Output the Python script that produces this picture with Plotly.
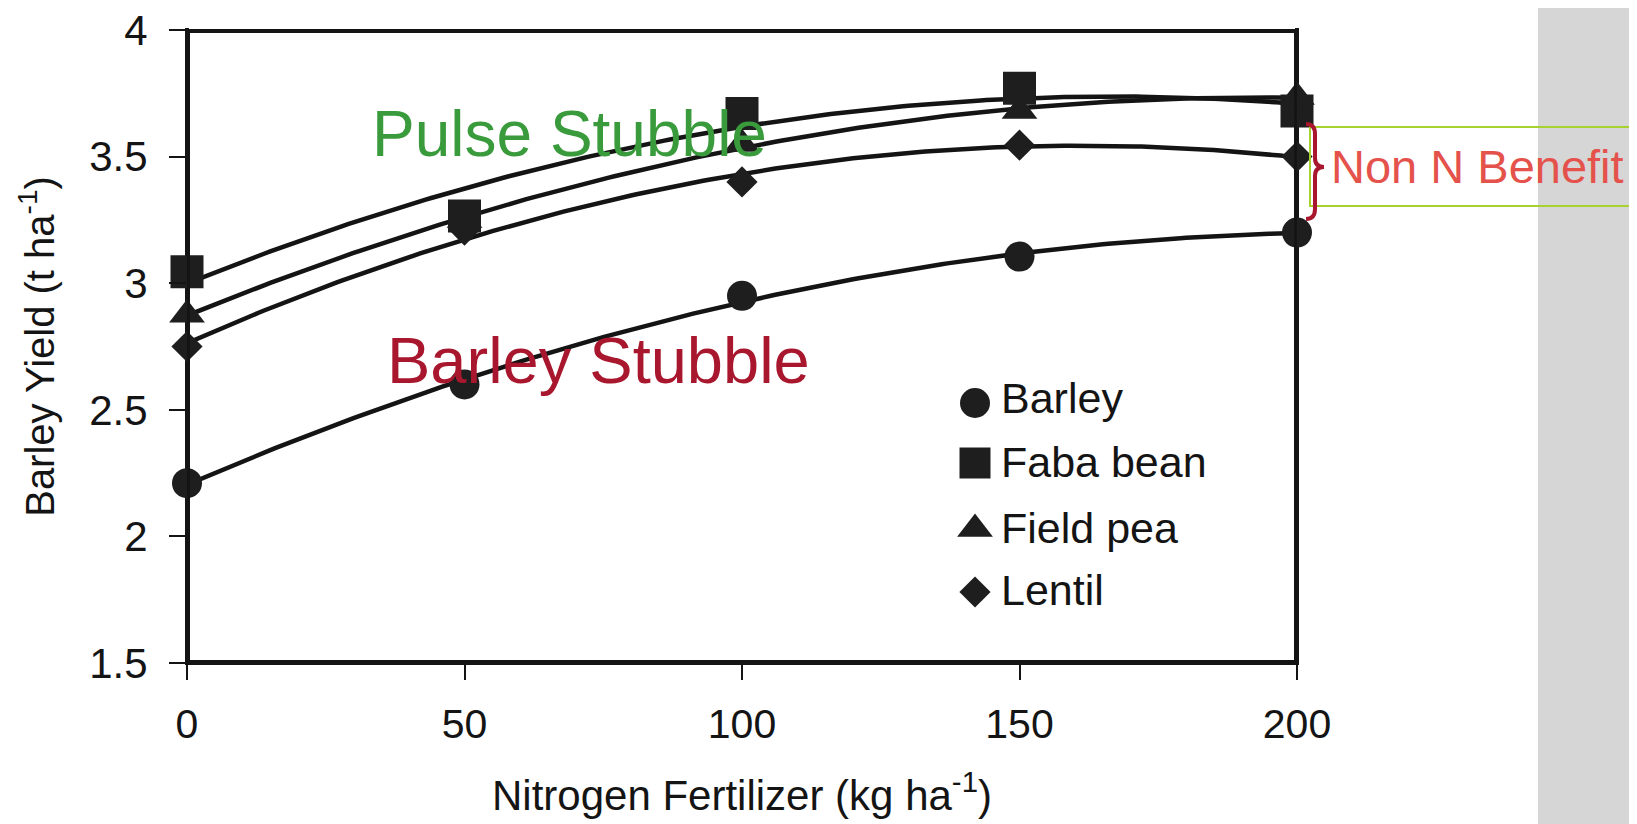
import numpy as np
import plotly.graph_objects as go

# ---------------- data ----------------
nitrogen = [0, 50, 100, 150, 200]
barley = [2.21, 2.60, 2.95, 3.105, 3.20]
faba_bean = [3.045, 3.265, 3.67, 3.77, 3.68]
field_pea = [2.875, 3.25, 3.55, 3.68, 3.735]
lentil = [2.75, 3.21, 3.40, 3.545, 3.50]

series_names = ["Barley", "Faba bean", "Field pea", "Lentil"]
series_values = [barley, faba_bean, field_pea, lentil]

x_ticks = [0, 50, 100, 150, 200]
y_ticks = [1.5, 2, 2.5, 3, 3.5, 4]
y_tick_labels = ["1.5", "2", "2.5", "3", "3.5", "4"]

# ---------------- layout constants (page pixels) ----------------
PAGE_W, PAGE_H = 1637, 824
BODY = 8                     # default page margin around the plot div
W, H = PAGE_W - BODY, PAGE_H - BODY
PL, PR, PT, PB = 187, 1297, 30, 663  # plot area edges on the page
FONT = "Liberation Sans, Arial, sans-serif"
INK = "#141414"
MARK = "#1e1e1e"

symbols = ["circle", "square", "triangle-up", "diamond"]
sizes = [30, 33, 31, 24]


def px(x):
    return (x - PL) / (PR - PL)


def py(y):
    return (PB - y) / (PB - PT)


fig = go.Figure()

# plot frame drawn on the pixel overlay axes (inner half visible)
fig.add_trace(go.Scatter(x=[PL, PL, PR, PR, PL], y=[PB, PT, PT, PB, PB],
                         mode="lines", xaxis="x2", yaxis="y2",
                         line=dict(color=INK, width=6), showlegend=False,
                         hoverinfo="skip", cliponaxis=False))

# fitted quadratic trend curves (as in the original figure)
xs = np.linspace(0, 200, 201)
for name, vals in zip(series_names, series_values):
    coef = np.polyfit(nitrogen, vals, 2)
    fig.add_trace(go.Scatter(x=xs, y=np.polyval(coef, xs), mode="lines",
                             line=dict(color=INK, width=4.5),
                             showlegend=False, hoverinfo="skip"))

# observed points
for name, vals, sym, sz in zip(series_names, series_values, symbols, sizes):
    fig.add_trace(go.Scatter(x=nitrogen, y=vals, mode="markers", name=name,
                             marker=dict(symbol=sym, size=sz, color=MARK, opacity=1,
                                         line=dict(width=0)),
                             showlegend=False, cliponaxis=False))

# legend (drawn inside the plot on a pixel-based overlay axis)
leg_x = 975
leg_marker_y = [403, 463, 529, 592]
leg_text_y = [398, 462, 528, 590]
fig.add_trace(go.Scatter(x=[leg_x] * 4, y=leg_marker_y, mode="markers",
                         xaxis="x2", yaxis="y2",
                         marker=dict(symbol=symbols, size=[30, 31, 31, 24],
                                     color=MARK, opacity=1, line=dict(width=0)),
                         showlegend=False, hoverinfo="skip", cliponaxis=False))

annotations = []
for name, ty in zip(series_names, leg_text_y):
    annotations.append(dict(x=999, y=ty, xref="x2", yref="y2", text=name,
                            showarrow=False, xanchor="left", yanchor="middle",
                            font=dict(family=FONT, size=43, color=INK)))

annotations += [
    dict(x=px(569), y=py(134), xref="paper", yref="paper", text="Pulse Stubble",
         showarrow=False, xanchor="center", yanchor="middle",
         font=dict(family=FONT, size=64, color="#3a9b3c")),
    dict(x=px(598), y=py(360), xref="paper", yref="paper", text="Barley Stubble",
         showarrow=False, xanchor="center", yanchor="middle",
         font=dict(family=FONT, size=65, color="#a8172d")),
    dict(x=px(1329), y=py(166), xref="paper", yref="paper", text="Non N Benefit",
         showarrow=False, xanchor="left", yanchor="middle",
         font=dict(family=FONT, size=47, color="#e4524b")),
]

# brace path (pixel points converted to paper)
def P(x, y):
    return f"{px(x):.5f},{py(y):.5f}"

brace = (f"M{P(1306,124)} Q{P(1315,124)} {P(1315,134)} L{P(1315,158)} "
         f"Q{P(1315,167)} {P(1324,167)} Q{P(1315,167)} {P(1315,176)} "
         f"L{P(1315,209)} Q{P(1315,219)} {P(1306,219)}")

shapes = [
    dict(type="rect", xref="paper", yref="paper", x0=px(1538), x1=px(1700),
         y0=py(-20), y1=py(860), fillcolor="#d6d6d6", line=dict(width=0), layer="below"),
    dict(type="line", xref="paper", yref="paper", x0=px(PL - 2), x1=px(PR + 2),
         y0=py(PT + 1), y1=py(PT + 1), line=dict(color=INK, width=4), layer="above"),
    dict(type="line", xref="paper", yref="paper", x0=px(PL - 2), x1=px(PR + 2),
         y0=py(PB), y1=py(PB), line=dict(color=INK, width=4), layer="below"),
    dict(type="line", xref="paper", yref="paper", x0=px(PL), x1=px(PL),
         y0=py(PT - 2), y1=py(PB + 2), line=dict(color=INK, width=4), layer="below"),
    dict(type="line", xref="paper", yref="paper", x0=px(PR), x1=px(PR),
         y0=py(PT - 2), y1=py(PB + 2), line=dict(color=INK, width=4), layer="below"),
    dict(type="rect", xref="paper", yref="paper", x0=px(1310), x1=px(1700),
         y0=py(206), y1=py(127), line=dict(color="#a6d12e", width=2),
         fillcolor="rgba(0,0,0,0)", layer="above"),
    dict(type="path", xref="paper", yref="paper", path=brace,
         line=dict(color="#a8172d", width=4), layer="above"),
]

fig.update_layout(
    width=W, height=H, autosize=False,
    margin=dict(l=PL - BODY, r=W - (PR - BODY), t=PT - BODY, b=H - (PB - BODY), pad=0),
    paper_bgcolor="white", plot_bgcolor="rgba(0,0,0,0)",
    showlegend=False,
    font=dict(family=FONT, color=INK),
    annotations=annotations, shapes=shapes,
    xaxis=dict(range=[0, 200], tickvals=x_ticks, ticks="outside", ticklen=16,
               tickwidth=2, tickcolor=INK, showline=False,
               showgrid=False, zeroline=False, ticklabeloverflow="allow",
               tickfont=dict(family=FONT, size=41, color=INK), ticklabelstandoff=9,
               title=dict(text="Nitrogen Fertilizer (kg ha<sup>-1</sup>)",
                          font=dict(family=FONT, size=42, color=INK), standoff=34),
               automargin=False),
    yaxis=dict(range=[1.5, 4], tickvals=y_ticks, ticktext=y_tick_labels,
               ticks="outside", ticklen=17, tickwidth=2, tickcolor=INK,
               showline=False, ticklabeloverflow="allow",
               showgrid=False, zeroline=False,
               tickfont=dict(family=FONT, size=42, color=INK), ticklabelstandoff=13,
               title=dict(text="Barley Yield (t ha<sup>-1</sup>)",
                          font=dict(family=FONT, size=40, color=INK), standoff=22),
               automargin=False),
    xaxis2=dict(range=[PL, PR], overlaying="x", visible=False, fixedrange=True),
    yaxis2=dict(range=[PB, PT], overlaying="y", visible=False, fixedrange=True),
)

fig.write_html("out.html")
